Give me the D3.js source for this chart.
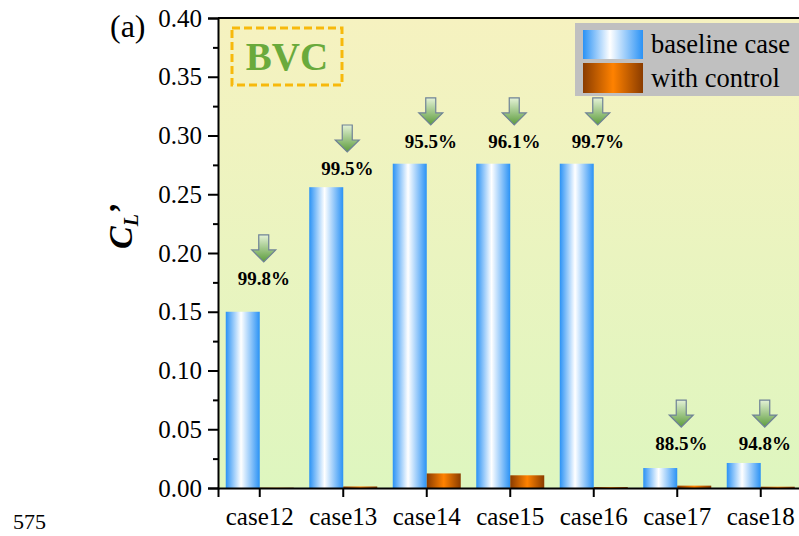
<!DOCTYPE html>
<html>
<head>
<meta charset="utf-8">
<script src="https://cdn.jsdelivr.net/npm/d3@7"></script>
<style>
  body { margin: 0; background: #fff; }
  text { font-family: "Liberation Serif", "Times New Roman", serif; }
</style>
</head>
<body>
<svg id="chart" width="799" height="536"></svg>
<script>
// Lift coefficient C_L' per case, without and with BVC control
const categories = ["case12", "case13", "case14", "case15", "case16", "case17", "case18"];
const baseline = [0.150, 0.256, 0.276, 0.276, 0.276, 0.017, 0.0213];
const controlled = [0.0003, 0.0013, 0.0124, 0.0108, 0.0008, 0.0020, 0.0011];
const reduction = ["99.8%", "99.5%", "95.5%", "96.1%", "99.7%", "88.5%", "94.8%"];
// height (in C_L' units) of each reduction label's baseline
const labelAt = [0.1728, 0.2664, 0.2894, 0.2894, 0.2894, 0.0323, 0.0323];
const yTicks = [0, 0.05, 0.10, 0.15, 0.20, 0.25, 0.30, 0.35, 0.40];
const yMinorTicks = [0.025, 0.075, 0.125, 0.175, 0.225, 0.275, 0.325, 0.375];

const FONT = "'Liberation Serif', 'Times New Roman', serif";
const svg = d3.select("#chart");
const mLeft = 218, mTop = 18, mBottom = 488, mRight = 802.5;

const x = d3.scaleBand().domain(categories).range([mLeft, mRight]).paddingInner(0).paddingOuter(0);
const y = d3.scaleLinear().domain([0, 0.4]).range([mBottom, mTop]);

const defs = svg.append("defs");
const bg = defs.append("linearGradient").attr("id", "bg").attr("x1", 0).attr("y1", 0).attr("x2", 0).attr("y2", 1);
bg.append("stop").attr("offset", "0%").attr("stop-color", "#f6f2c0");
bg.append("stop").attr("offset", "100%").attr("stop-color", "#def6bf");

const blue = defs.append("linearGradient").attr("id", "blue").attr("x1", 0).attr("x2", 1).attr("y1", 0).attr("y2", 0);
blue.append("stop").attr("offset", "0%").attr("stop-color", "#2a92f5");
blue.append("stop").attr("offset", "45%").attr("stop-color", "#ffffff");
blue.append("stop").attr("offset", "100%").attr("stop-color", "#2a92f5");

const orange = defs.append("linearGradient").attr("id", "orange").attr("x1", 0).attr("x2", 1).attr("y1", 0).attr("y2", 0);
orange.append("stop").attr("offset", "0%").attr("stop-color", "#8a3c00");
orange.append("stop").attr("offset", "50%").attr("stop-color", "#ff8200");
orange.append("stop").attr("offset", "100%").attr("stop-color", "#8a3c00");

const arrowGrad = defs.append("linearGradient").attr("id", "arrowGrad").attr("x1", 0).attr("x2", 0).attr("y1", 0).attr("y2", 1);
arrowGrad.append("stop").attr("offset", "0%").attr("stop-color", "#e4f2d6");
arrowGrad.append("stop").attr("offset", "100%").attr("stop-color", "#5c9c3c");

// plot background
svg.append("rect").attr("x", mLeft).attr("y", mTop).attr("width", mRight - mLeft).attr("height", mBottom - mTop)
  .attr("fill", "url(#bg)");

// bars
const bw = 34;
const groups = svg.append("g").selectAll("g").data(categories).join("g");
groups.append("rect")
  .attr("x", (d) => x(d) + x.bandwidth() / 2 - bw)
  .attr("y", (d, i) => y(baseline[i]))
  .attr("width", bw)
  .attr("height", (d, i) => y(0) - y(baseline[i]))
  .attr("fill", "url(#blue)");
groups.append("rect")
  .attr("x", (d) => x(d) + x.bandwidth() / 2)
  .attr("y", (d, i) => y(controlled[i]))
  .attr("width", bw)
  .attr("height", (d, i) => y(0) - y(controlled[i]))
  .attr("fill", "url(#orange)");

// reduction labels and arrows
groups.append("text")
  .attr("x", (d) => x(d) + x.bandwidth() / 2 + 4)
  .attr("y", (d, i) => y(labelAt[i]))
  .attr("text-anchor", "middle")
  .attr("font-size", 19)
  .attr("font-weight", "bold")
  .text((d, i) => reduction[i]);

const arrowPath = (cx, ty) => {
  const sw = 5, hw = 12, sh = 15, h = 27;
  return `M${cx - sw},${ty} L${cx + sw},${ty} L${cx + sw},${ty + sh} L${cx + hw},${ty + sh} L${cx},${ty + h} L${cx - hw},${ty + sh} L${cx - sw},${ty + sh} Z`;
};
groups.append("path")
  .attr("d", (d, i) => arrowPath(x(d) + x.bandwidth() / 2 + 4, y(labelAt[i]) - 50))
  .attr("fill", "url(#arrowGrad)")
  .attr("stroke", "#6f8296")
  .attr("stroke-width", 1.2);

// axes
const yAxis = d3.axisLeft(y).tickValues(yTicks).tickSize(10).tickPadding(6).tickFormat(d3.format(".2f"));
const yg = svg.append("g").attr("transform", `translate(${mLeft},0)`).call(yAxis);
yg.select(".domain").attr("stroke-width", 2);
yg.selectAll(".tick line").attr("stroke-width", 2);
yg.selectAll(".tick text").attr("font-size", 25).attr("fill", "#000").attr("font-family", FONT);

const ym = svg.append("g").attr("transform", `translate(${mLeft},0)`)
  .call(d3.axisLeft(y).tickValues(yMinorTicks).tickSize(5).tickFormat(""));
ym.select(".domain").remove();
ym.selectAll(".tick line").attr("stroke-width", 2);

const xAxis = d3.axisBottom(x).tickSize(9).tickPadding(10);
const xg = svg.append("g").attr("transform", `translate(0,${mBottom})`).call(xAxis);
xg.select(".domain").attr("stroke-width", 2);
xg.selectAll(".tick line").attr("stroke-width", 2);
xg.selectAll(".tick text").attr("font-size", 25).attr("fill", "#000").attr("font-family", FONT);

// top frame line
svg.append("line").attr("x1", mLeft).attr("x2", 799).attr("y1", mTop).attr("y2", mTop)
  .attr("stroke", "#000").attr("stroke-width", 2);

// BVC tag
svg.append("rect").attr("x", 232).attr("y", 28).attr("width", 110).attr("height", 57)
  .attr("fill", "none").attr("stroke", "#f7b90c").attr("stroke-width", 3).attr("stroke-dasharray", "8,4");
svg.append("text").attr("x", 287).attr("y", 70).attr("text-anchor", "middle")
  .attr("font-size", 39).attr("font-weight", "bold").attr("fill", "#6aaa3c").text("BVC");

// legend
const lg = svg.append("g");
lg.append("rect").attr("x", 575).attr("y", 23).attr("width", 230).attr("height", 73).attr("fill", "#c0c0c0");
lg.append("rect").attr("x", 583).attr("y", 30).attr("width", 60).attr("height", 29).attr("fill", "url(#blue)");
lg.append("rect").attr("x", 583).attr("y", 63).attr("width", 60).attr("height", 30).attr("fill", "url(#orange)");
lg.append("text").attr("x", 651).attr("y", 53).attr("font-size", 26.5).text("baseline case");
lg.append("text").attr("x", 651).attr("y", 87).attr("font-size", 26.5).text("with control");

// panel tag, y title, page number
svg.append("text").attr("x", 110).attr("y", 37).attr("font-size", 32).text("(a)");
const yt = svg.append("text").attr("transform", "translate(132,249) rotate(-90)")
  .attr("text-anchor", "start").attr("font-weight", "bold").attr("font-style", "italic").attr("font-size", 34);
yt.append("tspan").text("C");
yt.append("tspan").attr("font-size", 20).attr("dy", 6).text("L");
yt.append("tspan").attr("font-size", 34).attr("dy", -6).attr("dx", -1).text("’");
svg.append("text").attr("x", 13).attr("y", 529).attr("font-size", 22).text("575");
</script>
</body>
</html>
